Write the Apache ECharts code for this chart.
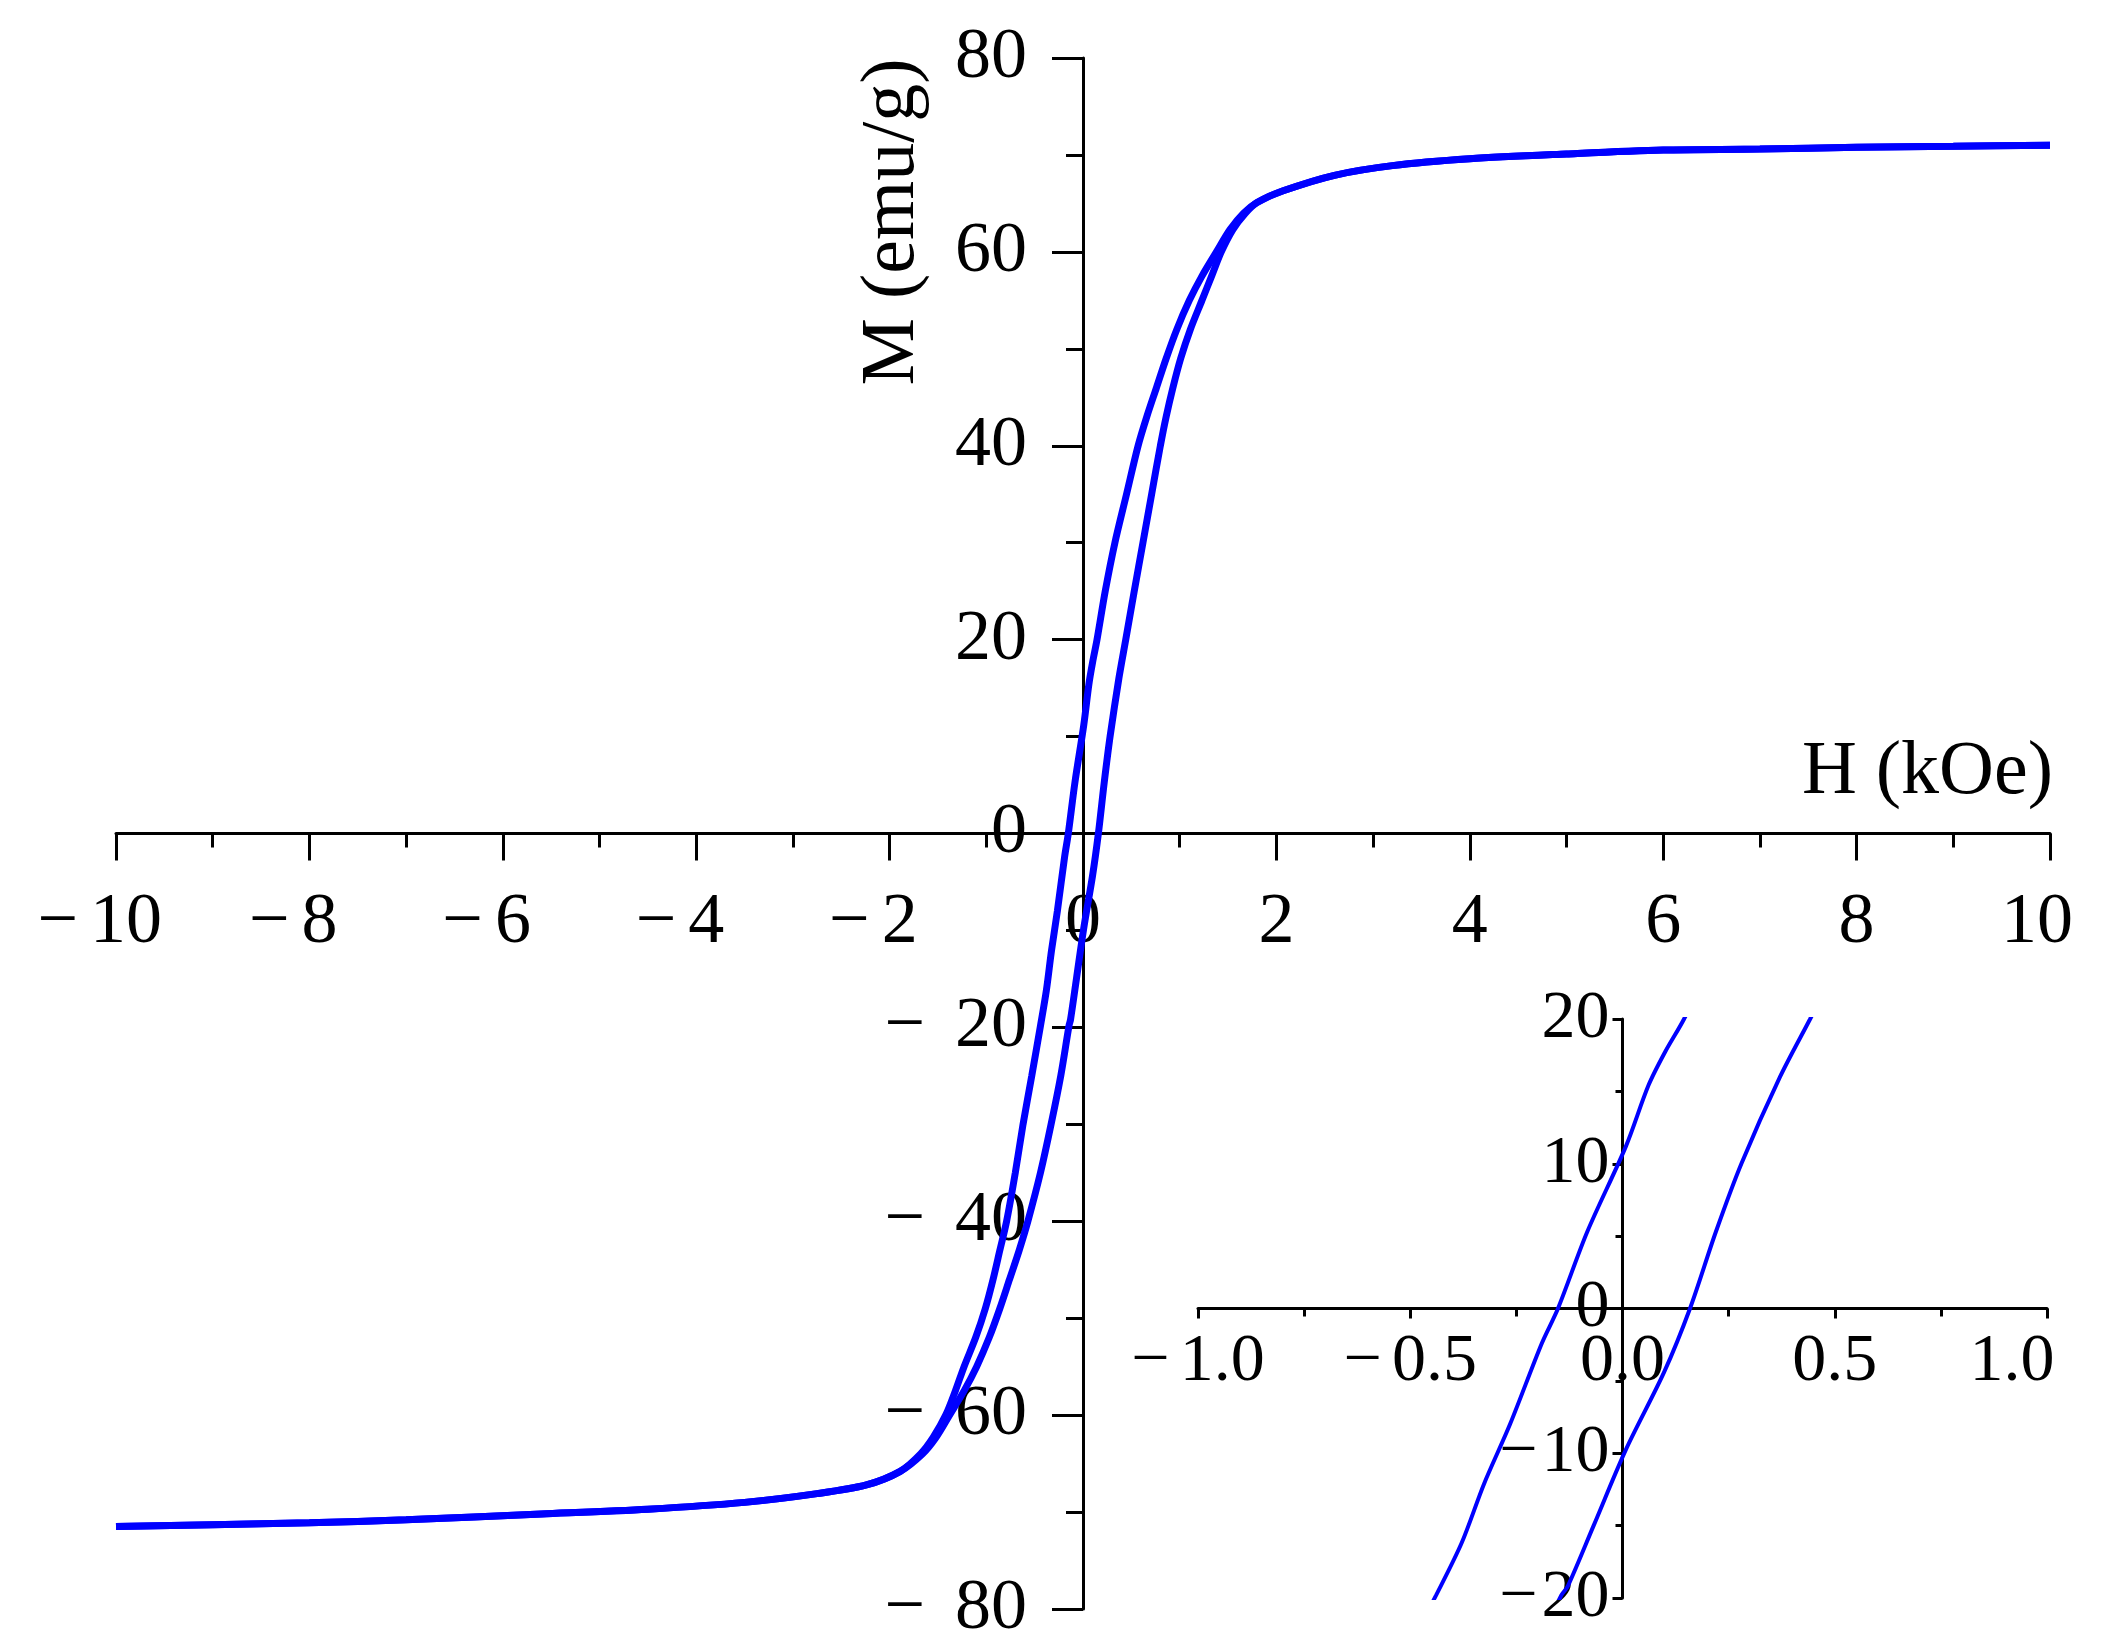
<!DOCTYPE html>
<html>
<head>
<meta charset="utf-8">
<title>M-H loop</title>
<script src="https://cdn.jsdelivr.net/npm/echarts@6.0.0/dist/echarts.min.js"></script>
<style>
  html, body { margin: 0; padding: 0; background: #fff; }
  #chart { width: 2107px; height: 1652px; }
</style>
</head>
<body>
<div id="chart"></div>
<script>
// H in kOe, M in emu/g
// descending branch (+10 -> -10 kOe)
var descH = [10, 9, 8, 7, 6, 5, 4, 3.2, 2.6, 2.07, 1.8, 1.66, 1.52, 1.38, 1.23, 1.10, 0.97, 0.86, 0.76, 0.66,
  0.57, 0.45, 0.33, 0.23, 0.145, 0.10, 0.061, 0.008, -0.083, -0.152, -0.19, -0.265, -0.326, -0.379, -0.439,
  -0.53, -0.62, -0.70, -0.79, -0.86, -0.93, -1.01, -1.11, -1.23, -1.32, -1.42, -1.55, -1.68, -1.89, -2.24,
  -2.75, -3.5, -4.5, -5.6, -7, -8, -9, -10];
var descM = [71.0, 70.9, 70.8, 70.6, 70.5, 70.1, 69.6, 68.9, 67.9, 66.3, 65.1, 64.0, 62.3, 60.0, 57.5, 55.0, 52.0, 49.0, 46.0, 43.0,
  40.0, 35.0, 30.0, 25.0, 20.0, 17.7, 15.4, 11.2, 5.3, 0, -2.4, -8.0, -12.1, -16.2, -19.8,
  -25.0, -30.0, -35.0, -40.0, -43.0, -46.0, -49.0, -52.0, -55.0, -57.5, -60.0, -62.3, -64.0, -65.8, -67.2,
  -68.1, -69.0, -69.7, -70.2, -70.8, -71.1, -71.3, -71.5];
// ascending branch (-10 -> +10 kOe)
var ascH = [-10, -9, -8, -7, -5.6, -4.5, -3.5, -2.75, -2.24, -1.89, -1.66, -1.52, -1.38, -1.23, -1.10, -0.97, -0.86,
  -0.76, -0.66, -0.57, -0.44, -0.33, -0.23, -0.144, -0.129, -0.068, 0.008, 0.098, 0.159, 0.22, 0.28, 0.371, 0.442,
  0.53, 0.62, 0.71, 0.80, 0.86, 0.93, 1.01, 1.11, 1.23, 1.33, 1.43, 1.55, 1.68, 1.8, 2.07, 2.6, 3.2, 4, 5, 6, 7, 8, 9, 10];
var ascM = [-71.5, -71.3, -71.1, -70.8, -70.2, -69.7, -69.0, -68.1, -67.2, -65.8, -64.0, -62.3, -60.0, -57.5, -55.0, -52.0, -49.0,
  -46.0, -43.0, -40.0, -35.0, -30.0, -25.0, -19.8, -19.2, -15.0, -9.75, -4.4, 0, 5.3, 10.0, 16.0, 20.0,
  25.0, 30.0, 35.0, 40.0, 43.0, 46.0, 49.0, 52.0, 55.0, 57.5, 60.0, 62.3, 64.0, 65.1, 66.3, 67.9, 68.9, 69.6, 70.1, 70.5, 70.6, 70.8, 70.9, 71.0];

// axis ranges: [min, max, major step]
var mainXRange = [-10, 10, 2];
var mainYRange = [-80, 80, 20];
var insetXRange = [-1, 1, 0.5];
var insetYRange = [-20, 20, 10];

// grid boxes in px: [left, top, width, height]
var mainBox = [116, 58, 1934, 1551];
var insetBox = [1198, 1019, 849, 579];

var BLUE = '#0000ff';
var FONT = 'Liberation Serif';
var CLEAR = 'rgba(0,0,0,0)';

function pairs(xs, ys) {
  var out = [];
  for (var i = 0; i < xs.length; i++) out.push([xs[i], ys[i]]);
  return out;
}

function txt(size, extra) {
  var s = { fontFamily: FONT, fontSize: size, color: '#000' };
  for (var k in extra) s[k] = extra[k];
  return s;
}

// shift an axis from the grid edge to the zero line of the other axis
function zeroOffset(range, size) {
  return -size * (0 - range[0]) / (range[1] - range[0]);
}

function axis(range, gridIndex, o) {
  return {
    type: 'value',
    gridIndex: gridIndex,
    position: o.position,
    offset: o.offset,
    min: range[0],
    max: range[1],
    interval: range[2],
    splitLine: { show: false },
    axisLine: { show: true, onZero: false, lineStyle: { color: '#000', width: 3 } },
    axisTick: { show: true, length: o.tick, lineStyle: { color: '#000', width: 3 } },
    minorTick: { show: true, splitNumber: 2, length: o.minor, lineStyle: { color: '#000', width: 3 } },
    axisLabel: {
      margin: o.margin,
      fontFamily: FONT,
      fontSize: o.size,
      color: '#000',
      formatter: o.fmt,
      rich: o.rich
    }
  };
}

var myChart = echarts.init(document.getElementById('chart'), null, { renderer: 'canvas' });

var option = {
  animation: false,
  backgroundColor: '#fff',
  grid: [
    { left: mainBox[0], top: mainBox[1], width: mainBox[2], height: mainBox[3], containLabel: false, outerBoundsMode: 'none' },
    { left: insetBox[0], top: insetBox[1], width: insetBox[2], height: insetBox[3], containLabel: false, outerBoundsMode: 'none' }
  ],
  xAxis: [
    axis(mainXRange, 0, {
      position: 'bottom', offset: zeroOffset(mainYRange, mainBox[3]),
      tick: 27, minor: 14, margin: 54, size: 72,
      fmt: function (v) {
        if (v < 0) return '{m|\u2212}{n|' + (-v) + '}{h|\u2009}';
        if (v === mainXRange[1]) return '{e|' + v + '}';
        return '{n|' + v + '}';
      },
      rich: {
        m: txt(72, { padding: [0, 12, 0, 0] }),
        n: txt(72),
        h: txt(72, { color: CLEAR, padding: [0, 0, 0, 18] }),
        e: txt(72, { padding: [0, 26, 0, 0] })
      }
    }),
    axis(insetXRange, 1, {
      position: 'bottom', offset: zeroOffset(insetYRange, insetBox[3]),
      tick: 10, minor: 8, margin: 20, size: 68,
      fmt: function (v) {
        if (v < 0) return '{m|\u2212}{n|' + (-v).toFixed(1) + '}';
        if (v === insetXRange[1]) return '{e|' + v.toFixed(1) + '}';
        return '{n|' + v.toFixed(1) + '}';
      },
      rich: {
        m: txt(68, { padding: [0, 10, 0, 0] }),
        n: txt(68),
        e: txt(68, { padding: [0, 70, 0, 0] })
      }
    })
  ],
  yAxis: [
    axis(mainYRange, 0, {
      position: 'left', offset: zeroOffset(mainXRange, mainBox[2]),
      tick: 31, minor: 17, margin: 56, size: 72,
      fmt: function (v) {
        if (v < 0) return '{m|\u2212}{n|' + (-v) + '}';
        return '{n|' + v + '}';
      },
      rich: { m: txt(72, { padding: [0, 30, 0, 0] }), n: txt(72) }
    }),
    axis(insetYRange, 1, {
      position: 'left', offset: zeroOffset(insetXRange, insetBox[2]),
      tick: 10, minor: 7, margin: 13, size: 68,
      fmt: function (v) {
        if (v < 0) return '{m|\u2212}{n|' + (-v) + '}';
        return '{n|' + v + '}';
      },
      rich: { m: txt(68, { padding: [0, 4, 0, 0] }), n: txt(68) }
    })
  ],
  series: [
    { name: 'desc', type: 'line', xAxisIndex: 0, yAxisIndex: 0, data: pairs(descH, descM),
      showSymbol: false, smooth: 0.3, lineStyle: { color: BLUE, width: 7 } },
    { name: 'asc', type: 'line', xAxisIndex: 0, yAxisIndex: 0, data: pairs(ascH, ascM),
      showSymbol: false, smooth: 0.3, lineStyle: { color: BLUE, width: 7 } },
    { name: 'desc-inset', type: 'line', xAxisIndex: 1, yAxisIndex: 1, data: pairs(descH, descM),
      showSymbol: false, smooth: 0.3, clip: true, lineStyle: { color: BLUE, width: 4 } },
    { name: 'asc-inset', type: 'line', xAxisIndex: 1, yAxisIndex: 1, data: pairs(ascH, ascM),
      showSymbol: false, smooth: 0.3, clip: true, lineStyle: { color: BLUE, width: 4 } }
  ],
  graphic: [
    { type: 'text', x: 893, y: 222, rotation: Math.PI / 2,
      style: { text: 'M (emu/g)', font: '76px "Liberation Serif"', fill: '#000', align: 'center', verticalAlign: 'middle' } },
    { type: 'text', x: 2053, y: 773,
      style: { text: 'H (kOe)', font: '76px "Liberation Serif"', fill: '#000', align: 'right', verticalAlign: 'middle' } }
  ]
};

myChart.setOption(option);
window.onresize = function () {
  myChart.resize();
};
</script>
</body>
</html>
